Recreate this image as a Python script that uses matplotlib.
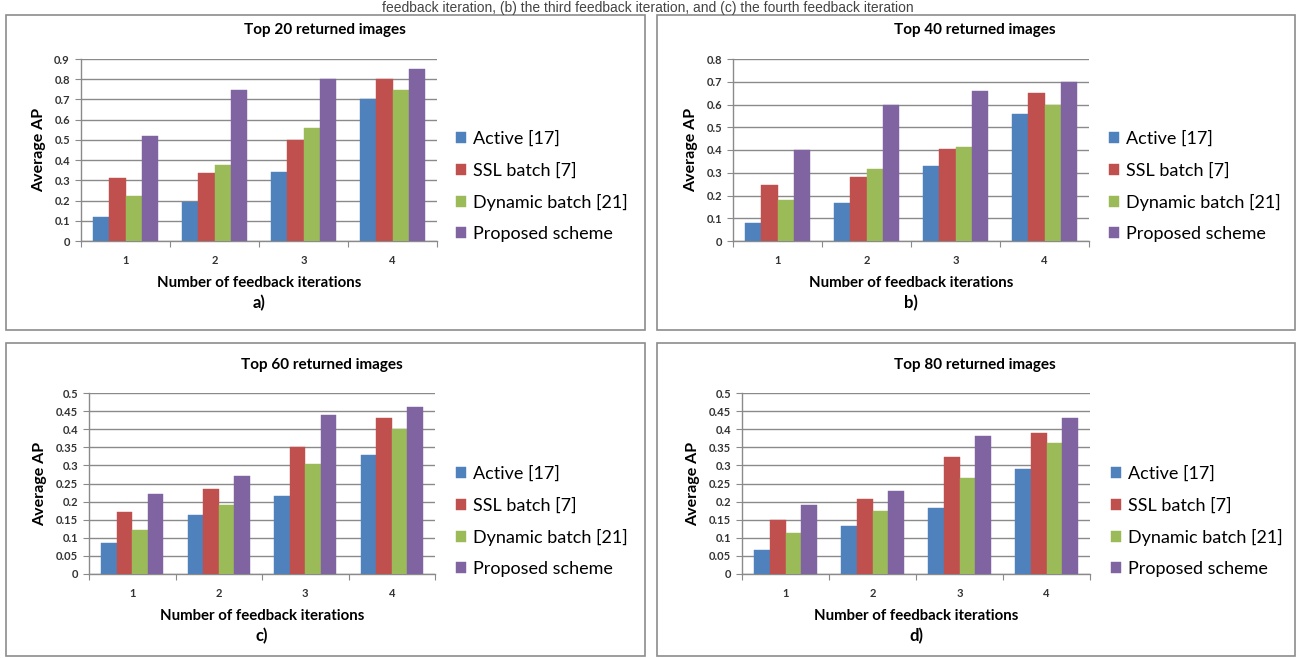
import matplotlib
matplotlib.use("Agg")
import matplotlib.pyplot as plt
import numpy as np
from matplotlib.patches import Rectangle

plt.rcParams['font.family'] = ['Lato', 'DejaVu Sans']

iterations = ["1", "2", "3", "4"]
series_names = ["Active [17]", "SSL batch [7]", "Dynamic batch [21]", "Proposed scheme"]
colors = ["#4F81BD", "#C0504D", "#9BBB59", "#8064A2"]

top20_active = [0.12, 0.195, 0.34, 0.70]
top20_ssl = [0.31, 0.335, 0.50, 0.80]
top20_dynamic = [0.225, 0.375, 0.56, 0.745]
top20_proposed = [0.52, 0.745, 0.80, 0.85]

top40_active = [0.08, 0.165, 0.33, 0.56]
top40_ssl = [0.245, 0.28, 0.405, 0.65]
top40_dynamic = [0.18, 0.315, 0.415, 0.60]
top40_proposed = [0.40, 0.60, 0.66, 0.70]

top60_active = [0.085, 0.162, 0.215, 0.33]
top60_ssl = [0.17, 0.235, 0.35, 0.43]
top60_dynamic = [0.122, 0.19, 0.305, 0.40]
top60_proposed = [0.222, 0.27, 0.44, 0.46]

top80_active = [0.065, 0.133, 0.183, 0.29]
top80_ssl = [0.148, 0.208, 0.322, 0.39]
top80_dynamic = [0.112, 0.175, 0.265, 0.362]
top80_proposed = [0.19, 0.23, 0.38, 0.43]

titles = ["Top 20 returned images", "Top 40 returned images",
          "Top 60 returned images", "Top 80 returned images"]
sublabels = ["a)", "b)", "c)", "d)"]
ymaxes = [0.9, 0.8, 0.5, 0.5]
ysteps = [0.1, 0.1, 0.05, 0.05]
caption = "feedback iteration, (b) the third feedback iteration, and (c) the fourth feedback iteration"

panels = [
    [top20_active, top20_ssl, top20_dynamic, top20_proposed],
    [top40_active, top40_ssl, top40_dynamic, top40_proposed],
    [top60_active, top60_ssl, top60_dynamic, top60_proposed],
    [top80_active, top80_ssl, top80_dynamic, top80_proposed],
]

W, H = 1296, 658
fig = plt.figure(figsize=(W / 100, H / 100), dpi=100)

def fx(x):
    return x / W

def fy(y):
    return 1 - y / H

# panel frames (pixel boxes)
frames = [(6, 15, 645, 330), (657, 15, 1295, 330), (6, 343, 645, 656), (657, 343, 1295, 656)]
for (x0, y0, x1, y1) in frames:
    fig.patches.append(Rectangle((fx(x0), fy(y1)), fx(x1 - x0), (y1 - y0) / H,
                                 transform=fig.transFigure, fill=False,
                                 edgecolor="#8c8c8c", lw=1.2))

# axes boxes: (left, top, right, bottom) in px
axboxes = [(81, 59, 437, 241), (733, 59, 1089, 241), (89, 393, 435, 574), (742, 393, 1090, 574)]
title_pos = [(325, 30), (975, 30), (322, 365), (975, 365)]
legend_pos = [(456, 131), (1109, 131), (456, 466), (1111, 466)]

gray = "#8a8a8a"
bw = 0.18
for i, (box, data) in enumerate(zip(axboxes, panels)):
    l, t, r, b = box
    ax = fig.add_axes([fx(l), fy(b), fx(r - l), (b - t) / H])
    x = np.arange(len(iterations)) + 0.5
    handles = []
    for k, (vals, c) in enumerate(zip(data, colors)):
        h = ax.bar(x + (k - 1.5) * bw, vals, width=bw, color=c, edgecolor=c, lw=0.3, zorder=3)
        handles.append(h)
    ax.set_xlim(0, 4)
    ax.set_ylim(0, ymaxes[i])
    yt = np.round(np.arange(0, ymaxes[i] + 1e-9, ysteps[i]), 3)
    ax.set_yticks(yt)
    ax.set_yticklabels([f"{v:g}" for v in yt], fontsize=8, fontweight="bold", color="#333333")
    ax.set_xticks([0, 1, 2, 3, 4])
    ax.set_xticklabels([])
    ax.set_xticks(x, minor=True)
    ax.set_xticklabels(iterations, minor=True, fontsize=8, fontweight="bold", color="#333333")
    ax.tick_params(axis="x", which="minor", length=0, pad=10)
    ax.tick_params(axis="x", which="major", length=4, color=gray, direction="out")
    ax.tick_params(axis="y", length=4, color=gray, direction="out", pad=4)
    ax.yaxis.grid(True, color=gray, lw=1, zorder=0)
    ax.set_axisbelow(True)
    for s in ["top", "right"]:
        ax.spines[s].set_visible(False)
    for s in ["left", "bottom"]:
        ax.spines[s].set_color(gray)
        ax.spines[s].set_linewidth(1)
    ax.set_ylabel("Average AP", fontsize=11.5, fontweight="bold", labelpad=6)
    ax.set_xlabel("Number of feedback iterations", fontsize=10.8, fontweight="bold", labelpad=7)
    cx = (l + r) / 2
    fig.text(fx(cx), fy(b + 62), sublabels[i], ha="center", va="center",
             fontsize=12, fontweight="bold")
    tx, ty = title_pos[i]
    fig.text(fx(tx), fy(ty), titles[i], ha="center", va="center", fontsize=11, fontweight="bold")
    lx, ly = legend_pos[i]
    fig.legend(handles, series_names, loc="upper left", bbox_to_anchor=(fx(lx), fy(ly)),
               frameon=False, fontsize=13, handlelength=0.55, handleheight=0.55,
               handletextpad=0.4, labelspacing=0.84, borderaxespad=0, borderpad=0)

fig.text(0.5, fy(1), caption, ha="center", va="top", fontsize=10, family="Liberation Sans",
         color="#444444")

fig.savefig("out.png", dpi=100)
